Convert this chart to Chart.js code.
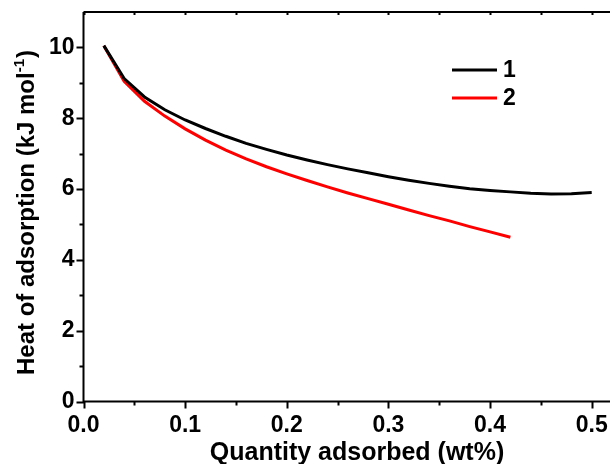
<!DOCTYPE html>
<html>
<head>
<meta charset="utf-8">
<script src="https://cdn.jsdelivr.net/npm/chart.js@4"></script>
<style>
  html, body { margin: 0; padding: 0; background: #fff; }
  #wrap { width: 610px; height: 464px; }
</style>
</head>
<body>
<div id="wrap"><canvas id="heat"></canvas></div>
<script>
var xTicks = [0, 0.1, 0.2, 0.3, 0.4, 0.5];
var yTicks = [0, 2, 4, 6, 8, 10];

var x1 = [0.02, 0.04, 0.06, 0.08, 0.10, 0.12, 0.14, 0.16, 0.18, 0.20, 0.22, 0.24, 0.26,
          0.28, 0.30, 0.32, 0.34, 0.36, 0.38, 0.40, 0.42, 0.44, 0.46, 0.48, 0.50];
var heat1 = [10.05, 9.12, 8.60, 8.24, 7.95, 7.71, 7.49, 7.29, 7.12, 6.96, 6.82, 6.69, 6.57,
             6.46, 6.35, 6.25, 6.16, 6.08, 6.01, 5.96, 5.92, 5.88, 5.86, 5.87, 5.90];

var x2 = [0.02, 0.04, 0.06, 0.08, 0.10, 0.12, 0.14, 0.16, 0.18, 0.20, 0.22, 0.24, 0.26,
          0.28, 0.30, 0.32, 0.34, 0.36, 0.38, 0.40, 0.42];
var heat2 = [10.05, 9.04, 8.48, 8.06, 7.70, 7.38, 7.10, 6.85, 6.63, 6.43, 6.24, 6.06, 5.89,
             5.73, 5.57, 5.41, 5.25, 5.10, 4.94, 4.79, 4.64];

var seriesNames = ["1", "2"];
var seriesColors = ["#000000", "#ff0000"];

function pts(xs, ys) {
  return xs.map(function (x, i) { return { x: x, y: ys[i] }; });
}

var fam = "'Liberation Sans', Arial, sans-serif";

// axis frame, minor ticks, titles and legend
var decor = {
  id: "decor",
  afterDraw: function (chart) {
    var c = chart.ctx, a = chart.chartArea;
    var xs = chart.scales.x, ys = chart.scales.y;
    c.save();
    c.strokeStyle = "#000";
    c.lineWidth = 2;
    c.beginPath();
    c.moveTo(a.left, a.top); c.lineTo(a.right, a.top);
    c.moveTo(a.left, a.top); c.lineTo(a.left, a.bottom);
    c.moveTo(a.left - 1, a.bottom); c.lineTo(a.right, a.bottom);
    for (var i = 0; i <= 10; i++) {
      var px = Math.round(xs.getPixelForValue(i * 0.05)) + 0.5;
      var len = i % 2 === 0 ? 7 : 4;
      c.moveTo(px, a.bottom); c.lineTo(px, a.bottom + len);
      c.moveTo(px, a.top); c.lineTo(px, a.top + 3);
    }
    for (var j = 0; j <= 10; j++) {
      var py = Math.round(ys.getPixelForValue(j)) + 0.5;
      var l = j % 2 === 0 ? 7 : 4;
      c.moveTo(a.left, py); c.lineTo(a.left - l, py);
    }
    c.stroke();

    // legend
    seriesNames.forEach(function (n, k) {
      var ly = 70 + k * 28;
      c.strokeStyle = seriesColors[k];
      c.lineWidth = 3;
      c.beginPath(); c.moveTo(452, ly); c.lineTo(497, ly); c.stroke();
      c.fillStyle = "#000";
      c.font = "bold 23px " + fam;
      c.textAlign = "left"; c.textBaseline = "middle";
      c.fillText(n, 503, ly + 1);
    });

    // x title
    c.fillStyle = "#000";
    c.font = "bold 25px " + fam;
    c.textAlign = "center"; c.textBaseline = "alphabetic";
    c.fillText("Quantity adsorbed (wt%)", 357, 460);

    // y title with superscript
    c.translate(34, 213);
    c.rotate(-Math.PI / 2);
    var main = "Heat of adsorption (kJ mol";
    var big = "bold 24px " + fam;
    var small = "bold 15px " + fam;
    c.font = big; var w1 = c.measureText(main).width;
    c.font = small; var w2 = c.measureText("-1").width;
    c.font = big; var w3 = c.measureText(")").width;
    var x0 = -(w1 + w2 + w3) / 2;
    c.textAlign = "left";
    c.font = big; c.fillText(main, x0, 0);
    c.font = small; c.fillText("-1", x0 + w1, -10);
    c.font = big; c.fillText(")", x0 + w1 + w2 + 1, 0);
    c.restore();
  }
};

new Chart(document.getElementById("heat"), {
  type: "line",
  data: {
    datasets: [
      { label: seriesNames[0], data: pts(x1, heat1), borderColor: seriesColors[0], borderWidth: 3, pointRadius: 0, tension: 0, fill: false },
      { label: seriesNames[1], data: pts(x2, heat2), borderColor: seriesColors[1], borderWidth: 3, pointRadius: 0, tension: 0, fill: false }
    ]
  },
  options: {
    responsive: true,
    maintainAspectRatio: false,
    animation: false,
    layout: { padding: { top: 12, right: 0, left: 0, bottom: 0 } },
    plugins: { legend: { display: false }, tooltip: { enabled: false } },
    scales: {
      x: {
        type: "linear",
        min: 0,
        max: 0.518,
        grid: { display: false, drawTicks: false },
        border: { display: false },
        afterBuildTicks: function (s) { s.ticks = xTicks.map(function (v) { return { value: v }; }); },
        afterFit: function (s) { s.height = 62.5; s.paddingLeft = 0; s.paddingRight = 0; },
        ticks: {
          color: "#000",
          font: { family: fam, size: 23, weight: "bold" },
          padding: 10,
          maxRotation: 0,
          callback: function (v) { return v.toFixed(1); }
        }
      },
      y: {
        min: 0,
        max: 11,
        grid: { display: false, drawTicks: false },
        border: { display: false },
        afterBuildTicks: function (s) { s.ticks = yTicks.map(function (v) { return { value: v }; }); },
        afterFit: function (s) { s.width = 83.5; s.paddingTop = 0; s.paddingBottom = 0; },
        ticks: {
          color: "#000",
          font: { family: fam, size: 23, weight: "bold" },
          padding: 9,
          callback: function (v) { return String(v); }
        }
      }
    }
  },
  plugins: [decor]
});
</script>
</body>
</html>
